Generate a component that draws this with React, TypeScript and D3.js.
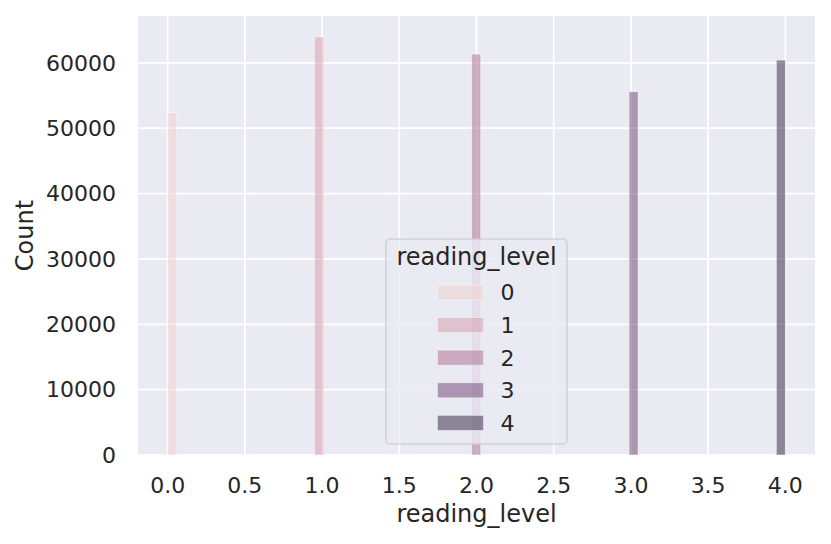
import { useMemo } from "react";
import * as d3 from "d3";

// reading_level histogram (seaborn style, hue = reading_level)
const levels = [0, 1, 2, 3, 4];
const binStarts = [0.0, 0.952, 1.969, 2.988, 3.942];
const binWidth = 0.058;
const counts = [52400, 63970, 61330, 55570, 60410];
const xTicks = [0, 0.5, 1, 1.5, 2, 2.5, 3, 3.5, 4];
const yTicks = [0, 10000, 20000, 30000, 40000, 50000, 60000];

const W = 831;
const H = 544;
const margin = { left: 138, right: 16, top: 16, bottom: 89 };
const FONT = "'DejaVu Sans', sans-serif";
const TXT = "#262626";

// seaborn's default cubehelix palette (start=0, rot=.4, hue=.8, light=.85, dark=.15)
function cubehelix(t: number) {
  const x = 0.85 + (0.15 - 0.85) * t;
  const a = (0.8 * x * (1 - x)) / 2;
  const phi = 2 * Math.PI * (0 / 3 + 0.4 * x);
  const c = Math.cos(phi);
  const s = Math.sin(phi);
  const r = x + a * (-0.14861 * c + 1.78277 * s);
  const g = x + a * (-0.29227 * c - 0.90649 * s);
  const b = x + a * (1.97294 * c);
  const cl = (v: number) => Math.max(0, Math.min(255, Math.round(v * 255)));
  return d3.rgb(cl(r), cl(g), cl(b)).formatHex();
}

export default function App() {
  const x = useMemo(
    () => d3.scaleLinear().domain([-0.192, 4.192]).range([margin.left, W - margin.right]),
    []
  );
  const y = useMemo(
    () =>
      d3
        .scaleLinear()
        .domain([0, (d3.max(counts) as number) * 1.05])
        .range([H - margin.bottom, margin.top]),
    []
  );
  const color = d3.scaleLinear().domain(d3.extent(levels) as [number, number]).range([0, 1]);

  const plotW = W - margin.left - margin.right;
  const plotH = H - margin.top - margin.bottom;

  // legend layout
  const lg = { x: 386, y: 239, w: 181, h: 205 };
  const rowY0 = 292.5;
  const rowStep = 32.6;

  return (
    <svg
      width={W}
      height={H}
      style={{ position: "absolute", left: 0, top: 0, background: "#fff" }}
      fontFamily={FONT}
    >
      <rect x={margin.left} y={margin.top} width={plotW} height={plotH} fill="#eaeaf2" />

      {/* grid */}
      {xTicks.map((t) => (
        <line key={"gx" + t} x1={x(t)} x2={x(t)} y1={margin.top} y2={margin.top + plotH} stroke="#fff" strokeWidth={1.75} />
      ))}
      {yTicks.map((t) => (
        <line key={"gy" + t} x1={margin.left} x2={margin.left + plotW} y1={y(t)} y2={y(t)} stroke="#fff" strokeWidth={1.75} />
      ))}

      {/* bars */}
      {levels.map((lv, i) => (
        <rect
          key={"b" + lv}
          x={x(binStarts[i])}
          y={y(counts[i])}
          width={x(binStarts[i] + binWidth) - x(binStarts[i])}
          height={y(0) - y(counts[i])}
          fill={cubehelix(color(lv))}
          fillOpacity={0.5}
          stroke="#fff"
          strokeOpacity={0.5}
          strokeWidth={0.8}
        />
      ))}

      {/* x ticks */}
      {xTicks.map((t) => (
        <text key={"xt" + t} x={x(t)} y={493} textAnchor="middle" fontSize={22} fill={TXT}>
          {d3.format(".1f")(t)}
        </text>
      ))}
      {/* y ticks */}
      {yTicks.map((t) => (
        <text key={"yt" + t} x={116} y={y(t)} dy="0.35em" textAnchor="end" fontSize={22} fill={TXT}>
          {t}
        </text>
      ))}

      <text x={margin.left + plotW / 2} y={522} textAnchor="middle" fontSize={24} fill={TXT}>
        reading_level
      </text>
      <text
        transform={`translate(33,${margin.top + plotH / 2}) rotate(-90)`}
        textAnchor="middle"
        fontSize={24}
        fill={TXT}
      >
        Count
      </text>

      {/* legend */}
      <rect
        x={lg.x}
        y={lg.y}
        width={lg.w}
        height={lg.h}
        rx={4}
        fill="#eaeaf2"
        fillOpacity={0.8}
        stroke="#cccccc"
        strokeOpacity={0.8}
        strokeWidth={1.5}
      />
      <text x={lg.x + lg.w / 2} y={265} textAnchor="middle" fontSize={24} fill={TXT}>
        reading_level
      </text>
      {levels.map((lv, i) => (
        <g key={"lg" + lv} transform={`translate(0,${rowY0 + i * rowStep})`}>
          <rect
            x={437.5}
            y={-7.5}
            width={46}
            height={15}
            fill={cubehelix(color(lv))}
            fillOpacity={0.5}
            stroke="#fff"
            strokeOpacity={0.5}
            strokeWidth={0.8}
          />
          <text x={500.5} y={0} dy="0.36em" fontSize={22} fill={TXT}>
            {lv}
          </text>
        </g>
      ))}
    </svg>
  );
}
